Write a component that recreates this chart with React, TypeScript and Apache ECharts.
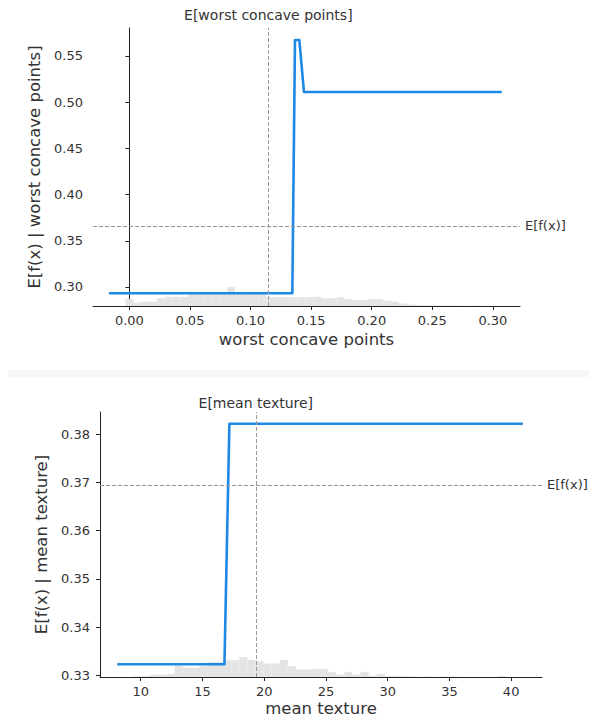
import React, { useEffect, useRef } from "react";
import * as echarts from "echarts";

// ---- Data ----
const TOP_LINE_X = [-0.016, 0.1345, 0.1367, 0.1403, 0.1441, 0.3065];
const TOP_LINE_Y = [0.2932, 0.2932, 0.5673, 0.5673, 0.5111, 0.5111];
const TOP_HIST_START = -0.016;
const TOP_HIST_END = 0.3065;
const TOP_HIST_COUNTS = [0, 0, 14, 7, 9, 9, 16, 19, 19, 19, 26, 26, 26, 26, 26, 39, 26, 26, 26, 26, 18, 18, 18, 18, 18, 18, 19, 16, 16, 18, 14, 12, 12, 14, 14, 11, 9, 5, 3, 2, 2, 1, 1, 1, 1, 0, 1, 1, 0, 0];
const TOP_X_TICKS = [0, 0.05, 0.1, 0.15, 0.2, 0.25, 0.3];
const TOP_Y_TICKS = [0.3, 0.35, 0.4, 0.45, 0.5, 0.55];
const TOP_FEATURE_MEAN = 0.1147;
const TOP_EXPECTED = 0.366;

const BOT_LINE_X = [8.18, 16.78, 17.18, 40.87];
const BOT_LINE_Y = [0.3323, 0.3323, 0.3822, 0.3822];
const BOT_HIST_START = 8.18;
const BOT_HIST_END = 40.87;
const BOT_HIST_COUNTS = [0, 0, 2, 2, 5, 5, 7, 25, 20, 20, 23, 32, 32, 36, 36, 43, 37, 34, 29, 29, 37, 23, 16, 16, 17, 17, 11, 5, 11, 5, 11, 2, 6, 2, 2, 1, 1, 0, 1, 0, 1, 1, 0, 0, 0, 0, 0, 2, 0, 0];
const BOT_X_TICKS = [10, 15, 20, 25, 30, 35, 40];
const BOT_Y_TICKS = [0.33, 0.34, 0.35, 0.36, 0.37, 0.38];
const BOT_FEATURE_MEAN = 19.32;
const BOT_EXPECTED = 0.3695;

const N_SAMPLES = 569;

const FONT = "DejaVu Sans";
const TXT = "#333333";
const AXIS = "#222222";
const BLUE = "#1E88E5";

function histData(start: number, end: number, counts: number[]) {
  const w = (end - start) / counts.length;
  return counts.map((c, i) => [start + i * w, start + (i + 1) * w, c]);
}

function lineData(xs: number[], ys: number[]) {
  return xs.map((x, i) => [x, ys[i]]);
}

export default function App() {
  const ref = useRef<HTMLDivElement>(null);
  useEffect(() => {
    if (!ref.current) return;
    const chart = echarts.init(ref.current, undefined, { renderer: "svg" });

    const mkX = (gi: number, min: number, max: number, ticks: number[], dec: number, name: string, gap: number) => ({
      type: "value",
      gridIndex: gi,
      min,
      max,
      name,
      nameLocation: "middle",
      nameGap: gap,
      nameTextStyle: { fontFamily: FONT, fontSize: 16.5, color: TXT },
      axisLine: { show: true, lineStyle: { color: AXIS, width: 1 } },
      axisTick: { show: true, length: 4, customValues: ticks, lineStyle: { color: AXIS } },
      axisLabel: {
        customValues: ticks,
        margin: 8,
        fontFamily: FONT,
        fontSize: 13,
        color: TXT,
        formatter: (v: number) => v.toFixed(dec),
      },
      splitLine: { show: false },
    });
    const mkY = (gi: number, min: number, max: number, ticks: number[], dec: number, name: string, gap: number) => ({
      type: "value",
      gridIndex: gi,
      min,
      max,
      name,
      nameLocation: "middle",
      nameGap: gap,
      nameTextStyle: { fontFamily: FONT, fontSize: 16.5, color: TXT },
      axisLine: { show: true, lineStyle: { color: AXIS, width: 1 } },
      axisTick: { show: true, length: 4, customValues: ticks, lineStyle: { color: AXIS } },
      axisLabel: {
        customValues: ticks,
        margin: 10,
        fontFamily: FONT,
        fontSize: 13,
        color: TXT,
        formatter: (v: number) => v.toFixed(dec),
      },
      splitLine: { show: false },
    });
    const mkHistY = (gi: number) => ({
      type: "value",
      gridIndex: gi,
      min: 0,
      max: N_SAMPLES,
      show: false,
      splitLine: { show: false },
    });

    const renderHist = (params: any, api: any) => {
      const x0 = api.value(0);
      const x1 = api.value(1);
      const c = api.value(2);
      const p0 = api.coord([x0, 0]);
      const p1 = api.coord([x1, c]);
      return {
        type: "rect",
        shape: { x: p0[0], y: p1[1], width: p1[0] - p0[0], height: p0[1] - p1[1] },
        style: { fill: "#e4e4e4" },
      };
    };

    const dash = { type: [4, 2], color: "#999999", width: 1 };
    const mkMark = (meanX: number, expY: number, meanLabel: string, dist: number) => ({
      silent: true,
      symbol: "none",
      precision: 5,
      lineStyle: dash,
      data: [
        {
          xAxis: meanX,
          label: {
            show: true,
            formatter: meanLabel,
            position: "end",
            distance: dist,
            fontFamily: FONT,
            fontSize: 14,
            color: TXT,
          },
        },
        {
          yAxis: expY,
          label: {
            show: true,
            formatter: "E[f(x)]",
            position: "end",
            distance: 5,
            fontFamily: FONT,
            fontSize: 13,
            color: TXT,
          },
        },
      ],
    });

    chart.setOption({
      animation: false,
      backgroundColor: "#ffffff",
      graphic: [
        {
          type: "rect",
          shape: { x: 8, y: 370, width: 581, height: 7 },
          style: { fill: "#f6f6f6" },
          silent: true,
        },
      ],
      grid: [
        { left: 93, top: 28, width: 427, height: 278, containLabel: false, outerBoundsMode: "none" },
        { left: 100, top: 412, width: 442, height: 265, containLabel: false, outerBoundsMode: "none" },
      ],
      xAxis: [
        mkX(0, -0.030, 0.3224, TOP_X_TICKS, 2, "worst concave points", 25),
        mkX(1, 6.70, 42.5, BOT_X_TICKS, 0, "mean texture", 23),
      ],
      yAxis: [
        mkY(0, 0.2794, 0.5803, TOP_Y_TICKS, 2, "E[f(x) | worst concave points]", 50),
        mkHistY(0),
        mkY(1, 0.32965, 0.38463, BOT_Y_TICKS, 2, "E[f(x) | mean texture]", 48),
        mkHistY(1),
      ],
      series: [
        {
          type: "custom",
          xAxisIndex: 0,
          yAxisIndex: 1,
          renderItem: renderHist,
          encode: { x: [0, 1], y: 2 },
          data: histData(TOP_HIST_START, TOP_HIST_END, TOP_HIST_COUNTS),
          z: 1,
          silent: true,
        },
        {
          type: "line",
          xAxisIndex: 0,
          yAxisIndex: 0,
          data: lineData(TOP_LINE_X, TOP_LINE_Y),
          showSymbol: false,
          symbol: "none",
          lineStyle: { color: BLUE, width: 2.6, join: "round", cap: "round" },
          z: 3,
          markLine: mkMark(TOP_FEATURE_MEAN, TOP_EXPECTED, "E[worst concave points]", 6),
        },
        {
          type: "custom",
          xAxisIndex: 1,
          yAxisIndex: 3,
          renderItem: renderHist,
          encode: { x: [0, 1], y: 2 },
          data: histData(BOT_HIST_START, BOT_HIST_END, BOT_HIST_COUNTS),
          z: 1,
          silent: true,
        },
        {
          type: "line",
          xAxisIndex: 1,
          yAxisIndex: 2,
          data: lineData(BOT_LINE_X, BOT_LINE_Y),
          showSymbol: false,
          symbol: "none",
          lineStyle: { color: BLUE, width: 2.6, join: "round", cap: "round" },
          z: 3,
          markLine: mkMark(BOT_FEATURE_MEAN, BOT_EXPECTED, "E[mean texture]", 2),
        },
      ],
    });
    return () => chart.dispose();
  }, []);
  return (
    <div
      ref={ref}
      style={{ position: "fixed", left: 0, top: 0, width: 589, height: 719, background: "#fff" }}
    />
  );
}
